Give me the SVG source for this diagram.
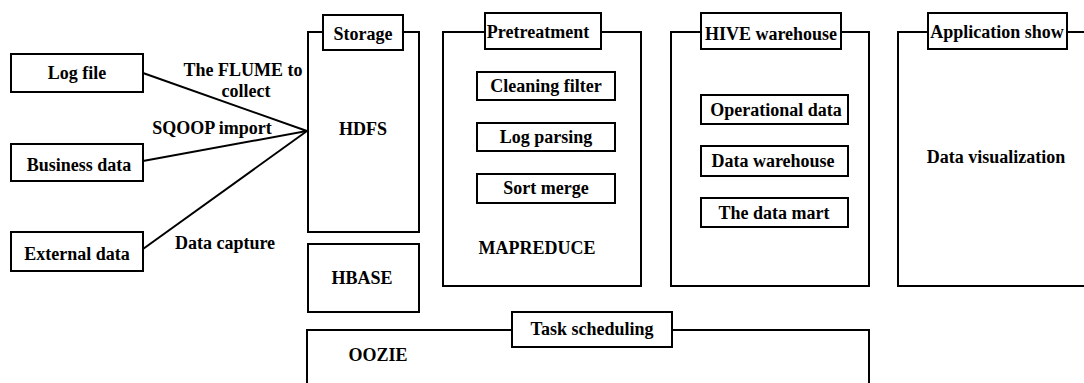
<svg xmlns="http://www.w3.org/2000/svg" width="1084" height="383" viewBox="0 0 1084 383">
<style>
.b{fill:#fff;stroke:#000;stroke-width:2}
.o{fill:none;stroke:#000;stroke-width:2}
text{font-family:"Liberation Serif","Times New Roman",serif;font-weight:bold;font-size:18px;fill:#000;text-anchor:middle}
</style>
<rect width="1084" height="383" fill="#fff"/>
<g id="connectors">
<polyline class="o" points="143,73 307,131 143,161"/>
<line class="o" x1="143" y1="249" x2="307" y2="131"/>
<text x="243" y="76">The FLUME to</text>
<text x="246" y="97">collect</text>
<text x="212" y="134">SQOOP import</text>
<text x="225" y="249">Data capture</text>
</g>
<g id="logfile"><rect class="b" x="11" y="54" width="132" height="38"/><text x="77" y="79">Log file</text></g>
<g id="business"><rect class="b" x="11" y="144" width="132" height="37"/><text x="79" y="171">Business data</text></g>
<g id="external"><rect class="b" x="11" y="232" width="132" height="39"/><text x="77" y="260">External data</text></g>
<g id="storage">
<rect class="b" x="308" y="32" width="111" height="200"/>
<rect class="b" x="323" y="15" width="80" height="35"/>
<text x="363" y="40">Storage</text>
<text x="363" y="135">HDFS</text>
</g>
<g id="hbase"><rect class="b" x="308" y="244" width="111" height="68"/><text x="362" y="284">HBASE</text></g>
<g id="pretreatment">
<rect class="b" x="443" y="32" width="198" height="254"/>
<rect class="b" x="485" y="13" width="116" height="36"/>
<text x="538" y="38">Pretreatment</text>
<rect class="b" x="477" y="72" width="138" height="28"/><text x="546" y="92">Cleaning filter</text>
<rect class="b" x="477" y="123" width="138" height="28"/><text x="546" y="143">Log parsing</text>
<rect class="b" x="477" y="174" width="138" height="29"/><text x="546" y="194">Sort merge</text>
<text x="537" y="254">MAPREDUCE</text>
</g>
<g id="hive">
<rect class="b" x="671" y="32" width="198" height="254"/>
<rect class="b" x="701" y="13" width="140" height="36"/>
<text x="771" y="40">HIVE warehouse</text>
<rect class="b" x="701" y="95" width="147" height="29"/><text x="776" y="116">Operational data</text>
<rect class="b" x="701" y="146" width="147" height="30"/><text x="773" y="167">Data warehouse</text>
<rect class="b" x="701" y="198" width="147" height="29"/><text x="774" y="219">The data mart</text>
</g>
<g id="appshow">
<rect class="b" x="898" y="32" width="200" height="254"/>
<rect class="b" x="928" y="13" width="139" height="36"/>
<text x="997" y="38">Application show</text>
<text x="996" y="163">Data visualization</text>
</g>
<g id="task">
<rect class="b" x="307" y="330" width="562" height="70"/>
<rect class="b" x="512" y="312" width="160" height="35"/>
<text x="592" y="335">Task scheduling</text>
<text x="378" y="361">OOZIE</text>
</g>
</svg>
